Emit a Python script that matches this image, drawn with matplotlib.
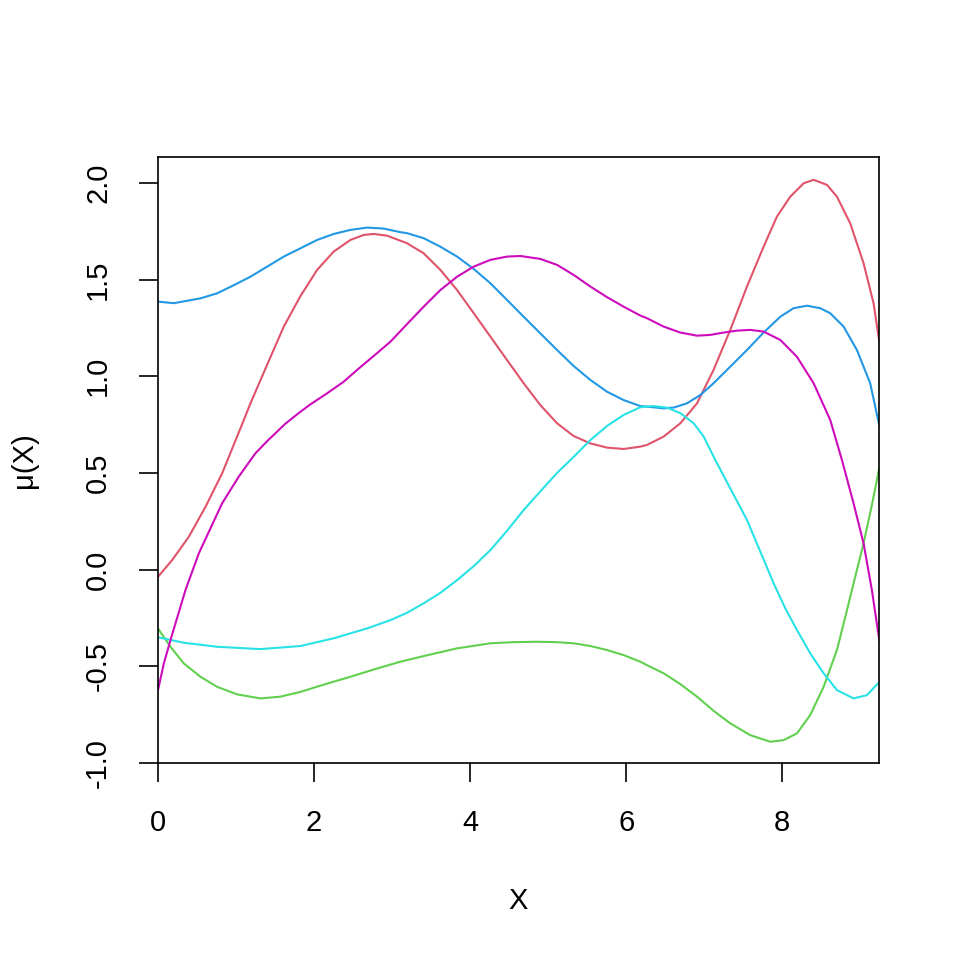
import matplotlib
matplotlib.use("Agg")
import matplotlib.pyplot as plt

plt.rcParams['font.family'] = ['Liberation Sans', 'DejaVu Sans']

# Colours (R 4.x palette)
colors = {"red": "#DF536B", "green": "#61D04F", "blue": "#2297E6",
          "cyan": "#28E2E5", "magenta": "#CD0BBC"}

blue_x = [0.0, 0.203, 0.544, 0.758, 0.971, 1.185, 1.399, 1.612, 1.826, 2.039, 2.252, 2.466, 2.68, 2.893,
          3.107, 3.192, 3.405, 3.619, 3.833, 4.046, 4.26, 4.473, 4.686, 4.9, 5.114, 5.327, 5.541, 5.755,
          5.967, 6.181, 6.267, 6.48, 6.608, 6.779, 6.95, 7.12, 7.334, 7.548, 7.761, 7.975, 8.145, 8.317,
          8.487, 8.615, 8.786, 8.957, 9.127, 9.247]
blue_y = [1.386, 1.378, 1.403, 1.429, 1.471, 1.515, 1.567, 1.619, 1.662, 1.705, 1.736, 1.757, 1.769, 1.764,
          1.745, 1.74, 1.714, 1.67, 1.619, 1.555, 1.481, 1.395, 1.308, 1.222, 1.136, 1.053, 0.981, 0.92,
          0.877, 0.846, 0.843, 0.834, 0.838, 0.86, 0.903, 0.964, 1.05, 1.136, 1.226, 1.308, 1.352, 1.365,
          1.352, 1.326, 1.257, 1.136, 0.964, 0.739]

red_x = [0.0, 0.182, 0.395, 0.609, 0.822, 1.1, 1.185, 1.399, 1.612, 1.826, 2.039, 2.252, 2.466, 2.637,
         2.765, 2.936, 3.192, 3.405, 3.619, 3.833, 4.046, 4.26, 4.473, 4.686, 4.9, 5.114, 5.327, 5.541,
         5.755, 5.967, 6.181, 6.267, 6.48, 6.694, 6.908, 7.12, 7.334, 7.548, 7.761, 7.932, 8.103, 8.274,
         8.402, 8.573, 8.701, 8.871, 9.042, 9.17, 9.247]
red_y = [-0.037, 0.050, 0.170, 0.325, 0.498, 0.774, 0.86, 1.06, 1.257, 1.415, 1.55, 1.645, 1.705, 1.731,
         1.736, 1.727, 1.688, 1.636, 1.55, 1.446, 1.326, 1.205, 1.084, 0.964, 0.851, 0.757, 0.691, 0.653,
         0.631, 0.624, 0.636, 0.645, 0.688, 0.757, 0.86, 1.033, 1.24, 1.464, 1.67, 1.826, 1.929, 1.998,
         2.016, 1.99, 1.929, 1.791, 1.585, 1.378, 1.171]

magenta_x = [0.0, 0.075, 0.16, 0.352, 0.523, 0.822, 1.035, 1.249, 1.40, 1.633, 1.82, 1.954, 2.167,
             2.38, 2.552, 2.808, 2.979, 3.192, 3.405, 3.619, 3.833, 4.046, 4.26, 4.473, 4.644, 4.9, 5.114,
             5.327, 5.541, 5.755, 5.967, 6.181, 6.267, 6.48, 6.694, 6.908, 7.078, 7.249, 7.42, 7.59, 7.761,
             7.975, 8.188, 8.402, 8.615, 8.765, 8.914, 9.042, 9.149, 9.247]
magenta_y = [-0.623, -0.485, -0.364, -0.106, 0.084, 0.343, 0.481, 0.602, 0.665, 0.755, 0.815, 0.855, 0.912,
             0.972, 1.033, 1.12, 1.179, 1.27, 1.36, 1.446, 1.515, 1.567, 1.602, 1.619, 1.622, 1.607, 1.576,
             1.524, 1.464, 1.409, 1.36, 1.314, 1.3, 1.257, 1.226, 1.21, 1.214, 1.226, 1.236, 1.24, 1.231,
             1.188, 1.101, 0.964, 0.774, 0.567, 0.343, 0.136, -0.106, -0.373]

cyan_x = [0.0, 0.33, 0.758, 1.313, 1.826, 2.252, 2.68, 2.979, 3.192, 3.405, 3.619, 3.833, 4.046, 4.26,
          4.473, 4.686, 4.9, 5.114, 5.306, 5.541, 5.755, 5.967, 6.181, 6.35, 6.523, 6.694, 6.865, 6.993,
          7.142, 7.334, 7.548, 7.719, 7.89, 8.039, 8.188, 8.359, 8.53, 8.701, 8.914, 9.085, 9.247]
cyan_y = [-0.35, -0.378, -0.399, -0.411, -0.395, -0.355, -0.304, -0.261, -0.223, -0.174, -0.12, -0.054, 0.018, 0.101,
          0.201, 0.308, 0.405, 0.50, 0.575, 0.67, 0.743, 0.80, 0.84, 0.846, 0.838, 0.809, 0.757, 0.688,
          0.567, 0.42, 0.257, 0.093, -0.071, -0.2, -0.312, -0.433, -0.536, -0.623, -0.666, -0.649, -0.58]

green_x = [0.0, 0.16, 0.33, 0.544, 0.758, 1.014, 1.313, 1.569, 1.826, 2.146, 2.466, 2.786, 3.107, 3.405,
           3.833, 4.26, 4.558, 4.857, 5.114, 5.327, 5.541, 5.755, 5.967, 6.181, 6.267, 6.48, 6.694, 6.908,
           7.12, 7.334, 7.59, 7.847, 8.017, 8.188, 8.359, 8.53, 8.701, 8.83, 8.935, 9.042, 9.149, 9.247]
green_y = [-0.304, -0.399, -0.485, -0.554, -0.606, -0.645, -0.666, -0.657, -0.632, -0.592, -0.554, -0.514, -0.476, -0.447,
           -0.407, -0.381, -0.375, -0.373, -0.375, -0.381, -0.395, -0.416, -0.442, -0.476, -0.494, -0.536, -0.592, -0.657,
           -0.73, -0.795, -0.856, -0.89, -0.882, -0.847, -0.752, -0.606, -0.416, -0.209, -0.037, 0.136, 0.334, 0.533]

x_ticks = [0, 2, 4, 6, 8]
y_ticks = [-1.0, -0.5, 0.0, 0.5, 1.0, 1.5, 2.0]
y_tick_labels = ["-1.0", "-0.5", "0.0", "0.5", "1.0", "1.5", "2.0"]

fig = plt.figure(figsize=(9.6, 9.6), dpi=100)
ax = fig.add_axes([158/960, 1 - 763/960, (879 - 158)/960, (763 - 157)/960])

series = [(red_x, red_y, "red"), (green_x, green_y, "green"), (blue_x, blue_y, "blue"),
          (cyan_x, cyan_y, "cyan"), (magenta_x, magenta_y, "magenta")]
for xs, ys, c in series:
    ax.plot(xs, ys, color=colors[c], lw=1.5, solid_joinstyle='round', solid_capstyle='butt')

ax.set_xlim(0, 9.24)
ax.set_ylim(-1.0, 2.134)
ax.set_xticks(x_ticks)
ax.set_xticklabels([str(t) for t in x_ticks])
ax.set_yticks(y_ticks)
ax.set_yticklabels(y_tick_labels, rotation=90, va='center')
ax.tick_params(axis='both', direction='out', length=14, width=1.2, labelsize=21, color='black')
ax.tick_params(axis='x', pad=19)
ax.tick_params(axis='y', pad=19)
for s in ax.spines.values():
    s.set_linewidth(1.2)
    s.set_color('black')

ax.set_xlabel("X", fontsize=21, labelpad=36)
ax.set_ylabel("μ(X)", fontsize=21, labelpad=33)

fig.savefig("out.png", dpi=100)
